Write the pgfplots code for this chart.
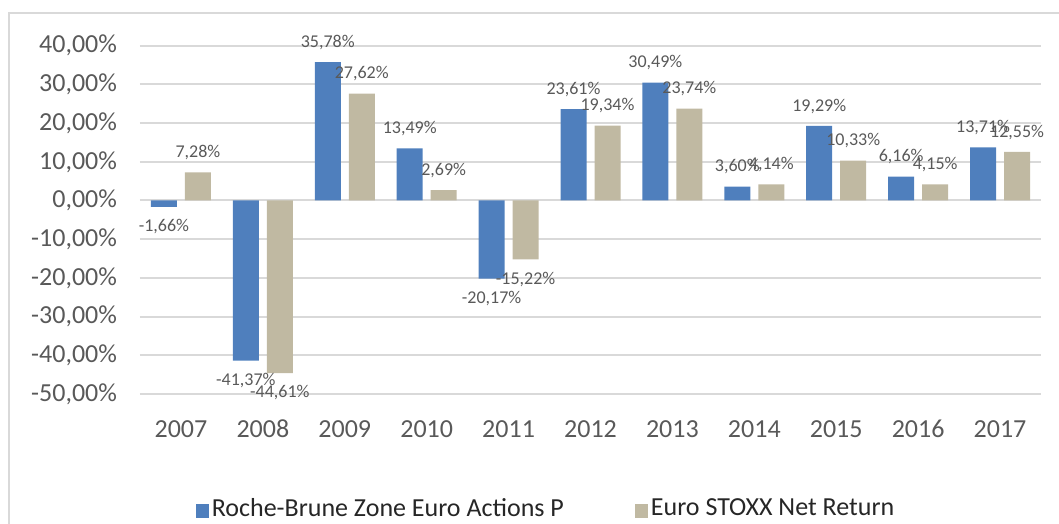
\documentclass[border=0pt]{standalone}
\usepackage{pgfplots}
\pgfplotsset{compat=1.18}
\usepackage{fontspec}
\setmainfont{Carlito}
\definecolor{cblue}{RGB}{79,127,189}
\definecolor{cbeige}{RGB}{192,185,162}
\definecolor{tgray}{RGB}{89,89,89}
\definecolor{ggray}{RGB}{217,217,217}
\begin{document}
\begin{tikzpicture}
\path[use as bounding box] (0,0) rectangle (529.5pt,262pt);
\draw[ggray, line width=1pt] (4.5pt,-2pt) -- (4.5pt,255.5pt) -- (531pt,255.5pt);
\begin{axis}[
  at={(70pt,65pt)}, anchor=south west,
  scale only axis, width=450.5pt, height=174.15pt,
  ybar=4pt, bar width=13pt,
  xmin=-0.5, xmax=10.5, ymin=-50, ymax=40,
  xtick=data,
  xticklabels={2007,2008,2009,2010,2011,2012,2013,2014,2015,2016,2017},
  ytick={-50,-40,-30,-20,-10,0,10,20,30,40},
  ymajorgrids, grid style={ggray, line width=1pt},
  axis line style={draw=none}, major tick length=0pt,
  /pgf/number format/assume math mode=true,
  ticklabel style={font=\fontsize{13}{15}\selectfont, text=tgray},
  xticklabel style={yshift=-9pt, text height=9pt, text depth=0pt},
  yticklabel style={xshift=-8pt},
  yticklabel={\pgfmathprintnumber[fixed,fixed zerofill,precision=2,use comma]{\tick}\%},
  nodes near coords={\pgfmathprintnumber[fixed,fixed zerofill,precision=2,use comma]{\pgfplotspointmeta}\%},
  every node near coord/.append style={font=\fontsize{9}{10}\selectfont, text=tgray, inner ysep=6pt, inner xsep=0pt},
  legend style={at={(0.4512,-0.3302)}, anchor=center, draw=none, fill=none,
    legend columns=2, font=\fontsize{13}{15}\selectfont, text=black!85,
    nodes={inner xsep=1.5pt},
    /tikz/every even column/.append style={column sep=34pt}},
  legend image code/.code={\fill[#1] (0pt,-4.5pt) rectangle (6.5pt,2.5pt);},
]
\addplot[fill=cblue, draw=none] coordinates {
(0,-1.66) (1,-41.37) (2,35.78) (3,13.49) (4,-20.17) (5,23.61) (6,30.49) (7,3.60) (8,19.29) (9,6.16) (10,13.71)};
\addplot[fill=cbeige, draw=none] coordinates {
(0,7.28) (1,-44.61) (2,27.62) (3,2.69) (4,-15.22) (5,19.34) (6,23.74) (7,4.14) (8,10.33) (9,4.15) (10,12.55)};
\legend{Roche-Brune Zone Euro Actions P, Euro STOXX Net Return}
\end{axis}
\end{tikzpicture}
\end{document}
